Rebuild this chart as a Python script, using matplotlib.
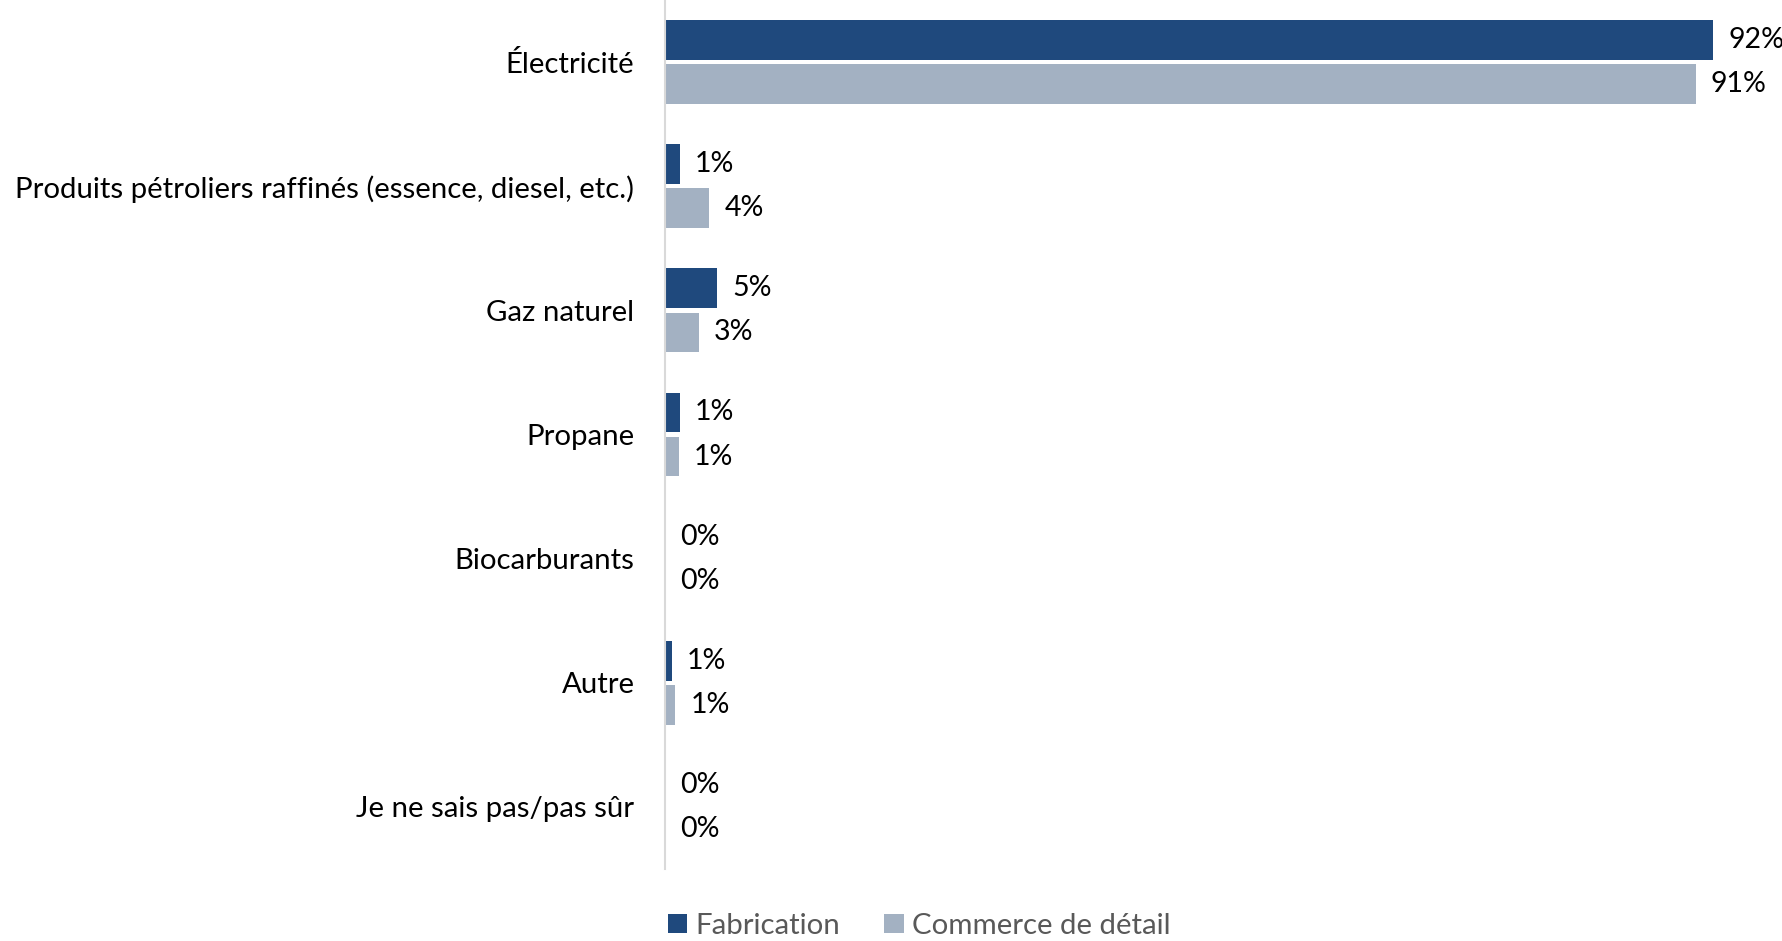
import numpy as np
import matplotlib.pyplot as plt

categories = ["Électricité",
              "Produits pétroliers raffinés (essence, diesel, etc.)",
              "Gaz naturel",
              "Propane",
              "Biocarburants",
              "Autre",
              "Je ne sais pas/pas sûr"]
fabrication = [92.1, 1.3, 4.6, 1.3, 0.0, 0.6, 0.0]
commerce = [90.6, 3.9, 3.0, 1.2, 0.0, 0.9, 0.0]
series_names = ["Fabrication", "Commerce de détail"]

dark = "#1F497D"
light = "#A3B1C2"

plt.rcParams["font.family"] = ["Lato", "DejaVu Sans"]

W, H = 1782, 941
fig = plt.figure(figsize=(W / 100, H / 100), dpi=100)
ax = fig.add_axes([665 / W, 1 - 869 / H, 1081 / W, 869 / H])

y = np.arange(len(categories))
h = 0.32
gap = 0.035
ax.barh(y - h / 2 - gap / 2, fabrication, height=h, color=dark, label=series_names[0])
ax.barh(y + h / 2 + gap / 2, commerce, height=h, color=light, label=series_names[1])

for i in range(len(categories)):
    ax.annotate(f"{round(fabrication[i])}%", (fabrication[i], y[i] - h / 2 - gap / 2),
                xytext=(15, 0), textcoords="offset pixels", va="center", ha="left",
                fontsize=20.5, color="black")
    ax.annotate(f"{round(commerce[i])}%", (commerce[i], y[i] + h / 2 + gap / 2),
                xytext=(15, 0), textcoords="offset pixels", va="center", ha="left",
                fontsize=20.5, color="black")

ax.set_xlim(0, 95)
ax.set_ylim(len(categories) - 0.5, -0.5)
ax.set_yticks(y)
ax.set_yticklabels(categories, fontsize=21.2)
ax.tick_params(axis="y", length=0, pad=22)
ax.set_xticks([])
for s in ["top", "right", "bottom"]:
    ax.spines[s].set_visible(False)
ax.spines["left"].set_color("#D9D9D9")
ax.spines["left"].set_linewidth(1.5)

fig.legend(loc="center left", bbox_to_anchor=(641 / W, 1 - 926 / H), ncol=2,
           frameon=False, fontsize=21.2, handlelength=0.65, handleheight=0.65,
           handletextpad=0.3, columnspacing=1.5, labelcolor="#595959")

fig.savefig("out.png", dpi=100)
